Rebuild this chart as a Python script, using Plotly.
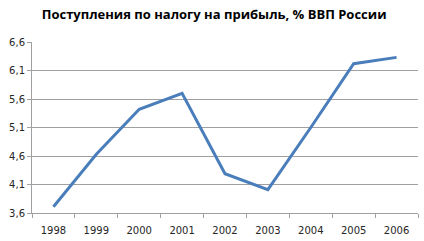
import plotly.graph_objects as go

years = ["1998", "1999", "2000", "2001", "2002", "2003", "2004", "2005", "2006"]
values = [3.71, 4.63, 5.42, 5.70, 4.29, 4.01, 5.10, 6.22, 6.33]
y_ticks = [3.6, 4.1, 4.6, 5.1, 5.6, 6.1, 6.6]
title = "Поступления по налогу на прибыль, % ВВП России"

fig = go.Figure()
fig.add_trace(go.Scatter(
    x=years, y=values, mode="lines",
    line=dict(color="#4A7EBB", width=3),
    hoverinfo="skip",
))

fig.update_layout(
    width=424, height=241,
    margin=dict(l=32, r=6, t=42, b=28),
    paper_bgcolor="white", plot_bgcolor="white",
    separators=", ",
    showlegend=False,
    title=dict(text="<b>" + title + "</b>", x=0.505, xanchor="center",
               y=0.94, yanchor="middle",
               font=dict(family="Open Sans", size=13, color="#000000")),
    font=dict(family="DejaVu Sans", size=10, color="#262626"),
)
fig.update_xaxes(
    type="category", range=[-0.5, 8.5],
    showline=True, linecolor="#A0A0A0", linewidth=1,
    ticks="outside", tickson="boundaries", ticklen=4, tickcolor="#A0A0A0",
    showgrid=False, tickfont=dict(size=10, family="DejaVu Sans"),
    ticklabelstandoff=8,
    fixedrange=True,
)
fig.update_yaxes(
    range=[3.6, 6.6], tickvals=y_ticks, tickformat=".1f",
    showline=True, linecolor="#A0A0A0", linewidth=1,
    ticks="outside", ticklen=4, tickcolor="#A0A0A0",
    showgrid=True, gridcolor="#A0A0A0", gridwidth=1,
    zeroline=False, tickfont=dict(size=10, family="DejaVu Sans"),
    fixedrange=True,
)

fig.write_html("out.html")
